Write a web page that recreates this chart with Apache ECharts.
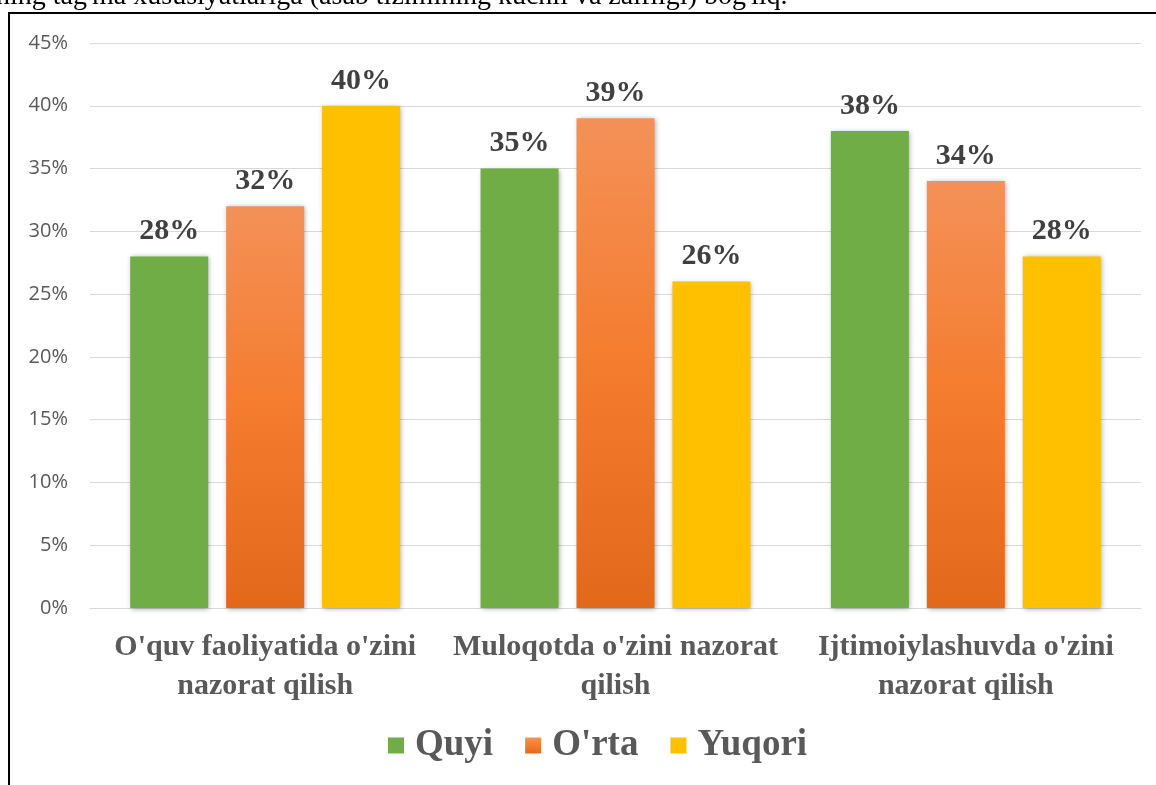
<!DOCTYPE html>
<html>
<head>
<meta charset="utf-8">
<script src="https://cdn.jsdelivr.net/npm/echarts@6/dist/echarts.min.js"></script>
<style>
html, body { margin: 0; padding: 0; background: #fff; }
#chart { width: 1156px; height: 785px; }
</style>
</head>
<body>
<div id="chart"></div>
<script>
const categories = ["O'quv faoliyatida o'zini\nnazorat qilish", "Muloqotda o'zini nazorat\nqilish", "Ijtimoiylashuvda o'zini\nnazorat qilish"];
const quyi = [28, 35, 38];
const orta = [32, 39, 34];
const yuqori = [40, 26, 28];
const seriesNames = ['Quyi', "O'rta", 'Yuqori'];
const topLine = "ning tag'ma xususiyatlariga (asab tizimining kuchli va zaifligi) bog'liq.";

const serif = '"Liberation Serif", "Times New Roman", serif';
const shadow = { shadowColor: 'rgba(0,0,0,0.35)', shadowBlur: 5, shadowOffsetX: 1, shadowOffsetY: 1 };

const chart = echarts.init(document.getElementById('chart'));

function barSeries(name, data, color) {
  return {
    name: name,
    type: 'bar',
    data: data,
    barWidth: 78,
    barGap: '23%',
    itemStyle: Object.assign({ color: color }, shadow),
    label: {
      show: true,
      position: 'top',
      distance: 10,
      formatter: '{c}%',
      fontFamily: serif,
      fontWeight: 'bold',
      fontSize: 30,
      color: '#404040'
    }
  };
}

chart.setOption({
  animation: false,
  graphic: [
    {
      type: 'text',
      left: -4,
      top: -17,
      style: { text: topLine, font: '28px ' + serif, fill: '#000' }
    },
    {
      type: 'rect',
      shape: { x: 9, y: 13, width: 1300, height: 900 },
      style: { fill: 'none', stroke: '#000', lineWidth: 2 }
    }
  ],
  legend: {
    bottom: 16,
    left: 383,
    itemWidth: 16,
    itemHeight: 16,
    itemGap: 32,
    icon: 'rect',
    textStyle: { fontFamily: serif, fontWeight: 'bold', fontSize: 37, color: '#595959', padding: [0, 0, 0, 6] },
    data: seriesNames
  },
  grid: { left: 90, right: 15, top: 43, bottom: 177 },
  xAxis: {
    type: 'category',
    data: categories,
    axisLine: { lineStyle: { color: '#D9D9D9', width: 1 } },
    axisTick: { show: false },
    axisLabel: {
      interval: 0,
      margin: 20,
      fontFamily: serif,
      fontWeight: 'bold',
      fontSize: 30,
      lineHeight: 39,
      color: '#595959'
    }
  },
  yAxis: {
    type: 'value',
    min: 0,
    max: 45,
    interval: 5,
    axisLine: { show: false },
    axisTick: { show: false },
    splitLine: { lineStyle: { color: '#D9D9D9' } },
    axisLabel: {
      formatter: '{value}%',
      margin: 22,
      fontFamily: '"Open Sans", "Noto Sans", sans-serif',
      fontSize: 20,
      color: '#595959'
    }
  },
  series: [
    barSeries(seriesNames[0], quyi, '#70AD47'),
    barSeries(seriesNames[1], orta, new echarts.graphic.LinearGradient(0, 0, 0, 1, [
      { offset: 0, color: '#F49158' },
      { offset: 0.5, color: '#F47C2E' },
      { offset: 1, color: '#E2691A' }
    ])),
    barSeries(seriesNames[2], yuqori, '#FFC000')
  ]
});
</script>
</body>
</html>
